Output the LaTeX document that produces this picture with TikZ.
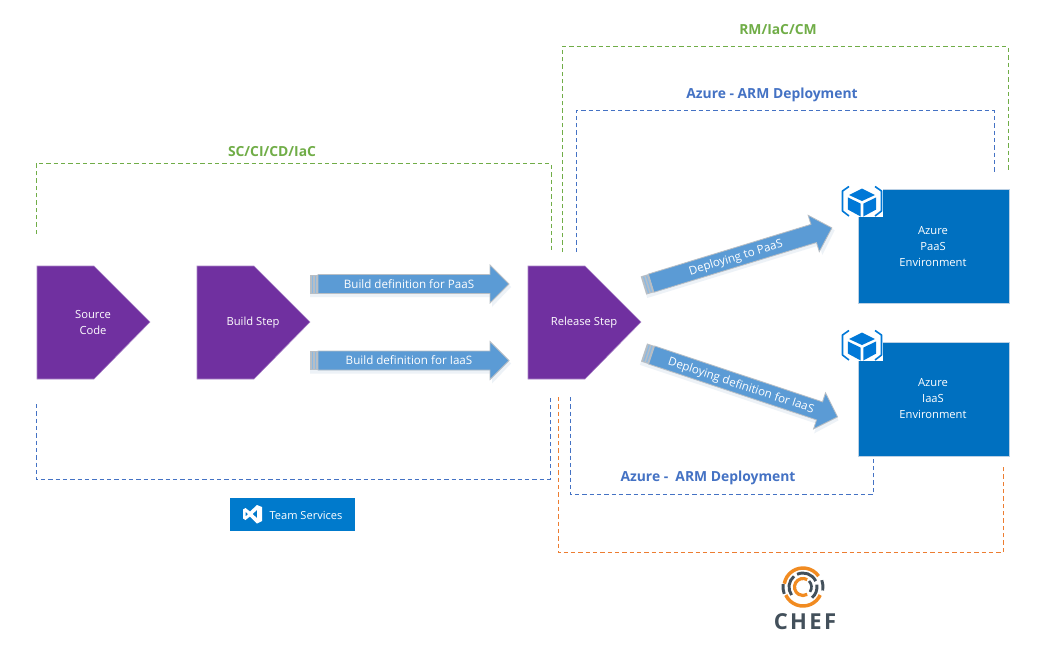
\documentclass[tikz,border=0pt]{standalone}
\usepackage{fontspec}
\setmainfont{Open Sans}
\usetikzlibrary{calc}
\definecolor{purp}{HTML}{7030A0}
\definecolor{azbox}{HTML}{0070C0}
\definecolor{azedge}{HTML}{BBD0E4}
\definecolor{azicon}{HTML}{0078D7}
\definecolor{arrowblue}{HTML}{5B9BD5}
\definecolor{arrowedge}{HTML}{B8BEC4}
\definecolor{softshadow}{HTML}{EDF2F7}
\definecolor{dgreen}{HTML}{70AD47}
\definecolor{dblue}{HTML}{4472C4}
\definecolor{dorange}{HTML}{ED7D31}
\definecolor{vsblue}{HTML}{007ACC}
\definecolor{chefgray}{HTML}{43505B}
\definecolor{cheforange}{HTML}{F18B21}
\tikzset{
  x=0.75pt,y=-0.75pt,
  steplabel/.style={text=white,font=\fontsize{8.4pt}{12pt}\selectfont,align=center,inner sep=0pt},
  envlabel/.style={text=white,font=\fontsize{8.4pt}{12pt}\selectfont,align=center,inner sep=0pt},
  arrowlabel/.style={text=white,font=\fontsize{8.7pt}{10pt}\selectfont,inner sep=0pt},
  grouplabel/.style={font=\bfseries\fontsize{10.4pt}{12pt}\selectfont,inner sep=0pt},
  pentagon/.style={fill=purp,draw=purp!60!white,line width=0.4pt},
  dashgreen/.style={draw=dgreen,dash pattern=on 3.3pt off 2.2pt,line width=0.6pt},
  dashblue/.style={draw=dblue,dash pattern=on 3.3pt off 2.2pt,line width=0.6pt},
  dashorange/.style={draw=dorange,dash pattern=on 3.3pt off 2.2pt,line width=0.6pt},
  azurebox/.style={fill=azbox,draw=azedge,line width=0.6pt},
  blockarrow/.style={fill=arrowblue,draw=arrowedge,line width=0.6pt},
}
% x, y, angle, length: block arrow starting at tail centre
\newcommand{\blockarrow}[4]{%
  \begin{scope}[shift={(#1,#2)},rotate=#3]
    \fill[softshadow] (0,-7) -- (#4-17,-7) -- (#4-17,-17) -- (#4+2,3) -- (#4-17,23) -- (#4-17,13) -- (0,13) -- cycle;
    \path[blockarrow] (8,-9.5) -- (#4-19,-9.5) -- (#4-19,-19) -- (#4,0) -- (#4-19,19) -- (#4-19,9.5) -- (8,9.5) -- cycle;
    \fill[arrowedge] (0,-9.5) rectangle (8,9.5);
    \fill[arrowblue!70!white] (2,-8.5) rectangle (3.3,8.5);
    \fill[arrowblue!70!white] (5,-8.5) rectangle (6.3,8.5);
  \end{scope}}
\newcommand{\pentashape}[1]{%
  \path[pentagon] (#1,266) -- ++(57,0) -- ++(56,56) -- ++(-56,57) -- ++(-57,0) -- cycle;}
\newcommand{\cubeicon}[2]{%
  \begin{scope}[shift={(#1,#2)}]
    \fill[white] (-20,-16) rectangle (21,15);
    \fill[azicon] (0,-13.5) -- (13,-7) -- (0,-1) -- (-13,-7) -- cycle;
    \fill[azicon] (-14.2,-4.6) -- (-1.3,1.6) -- (-1.3,14.5) -- (-14.2,7.5) -- cycle;
    \fill[azicon] (14.2,-4.6) -- (1.3,1.6) -- (1.3,14.5) -- (14.2,7.5) -- cycle;
    \draw[azicon,line width=1.2pt,line join=round] (-13,-15.5) -- (-19.5,-11) -- (-19.5,9) -- (-13,14);
    \draw[azicon,line width=1.2pt,line join=round] (13,-15.5) -- (19.5,-11) -- (19.5,9) -- (13,14);
  \end{scope}}
\begin{document}
\begin{tikzpicture}
\useasboundingbox[fill=white] (0,0) rectangle (1040,668);

% free ends of the dashed connectors
\coordinate (ga) at (36,234);  \coordinate (gb) at (551,252);
\coordinate (ba) at (36,404);  \coordinate (bb) at (550,397);
\coordinate (gc) at (562,252); \coordinate (gd) at (1008,172);
\coordinate (bc) at (576,252); \coordinate (bd) at (994,174);
\coordinate (be) at (570,397); \coordinate (bf) at (873,459);
\coordinate (oa) at (558,397); \coordinate (ob) at (1003,467);

% dashed groups
\draw[dashgreen] (ga) |- (gb |- 0,163.7) -- (gb);
\draw[dashblue] (ba) |- (bb |- 0,479.7) -- (bb);
\draw[dashgreen] (gc) |- (gd |- 0,46.7) -- (gd);
\draw[dashblue] (bc) |- (bd |- 0,110.7) -- (bd);
\draw[dashblue] (be) |- (bf |- 0,494.7) -- (bf);
\draw[dashorange] (oa) |- (ob |- 0,552.7) -- (ob);

% group labels
\node[grouplabel,text=dgreen] (l1) at (272,151.5) {SC/CI/CD/IaC};
\node[grouplabel,text=dgreen] (l2) at (778,30) {RM/IaC/CM};
\node[grouplabel,text=dblue] (l3) at (772,95) {Azure - ARM Deployment};
\node[grouplabel,text=dblue] (l4) at (708,478) {Azure -~~ARM Deployment};

% step pentagons
\pentashape{37}\pentashape{197}\pentashape{528}
\node[steplabel] (src) at (93,322) {Source\\ Code};
\node[steplabel] (bld) at (253,323) {Build Step};
\node[steplabel] (rel) at (584,323) {Release Step};

% block arrows
\blockarrow{310}{284}{0}{199}
\blockarrow{310}{360.5}{0}{199}
\blockarrow{643.5}{285.5}{17}{197}
\blockarrow{644}{352.5}{-18.4}{204}
\node[arrowlabel] (a1) at (409,284) {Build definition for PaaS};
\node[arrowlabel] (a2) at (409,360) {Build definition for IaaS};
\node[arrowlabel,rotate=17] (a3) at (736,258) {Deploying to PaaS};
\node[arrowlabel,rotate=-18.4] (a4) at (741,386) {Deploying definition for IaaS};

% azure boxes
\path[azurebox] (858,189) rectangle (1009,303);
\path[azurebox] (858,342) rectangle (1009,456);
\node[envlabel] (paas) at (933,247) {Azure\\ PaaS\\ Environment};
\node[envlabel] (iaas) at (933,399) {Azure\\ IaaS\\ Environment};
\cubeicon{862}{202}
\cubeicon{862}{346}

% team services badge
\fill[vsblue] (230,498) rectangle (355,531);
\node[text=white,font=\fontsize{8.3pt}{9pt}\selectfont,inner sep=0pt] (ts) at (306,515) {Team Services};
\fill[white,even odd rule] (257,505) -- (262,507) -- (262,521) -- (257,523.5) -- (250,516.5) -- (245.5,520) -- (243,518.5) -- (243,509.5) -- (245.5,508) -- (250,511.5) -- cycle
  (245.5,511.5) -- (248,514) -- (245.5,516.5) -- cycle
  (257,510) -- (257,518) -- (252.5,514) -- cycle;

% chef logo
\begin{scope}[shift={(803,587)},x=0.75pt,y=0.75pt,line cap=butt]
  \draw[cheforange,line width=2.6pt] (35:19) arc (35:170:19);
  \draw[cheforange,line width=2.6pt] (205:19) arc (205:335:19);
  \draw[cheforange,line width=2.4pt] (60:8.5) arc (60:300:8.5);
  \draw[chefgray,line width=2.2pt] (25:14) arc (25:115:14);
  \draw[chefgray,line width=2.2pt] (130:14) arc (130:215:14);
  \draw[chefgray,line width=2.2pt] (-50:14) arc (-50:10:14);
  \draw[chefgray,line width=2.2pt] (-10:20) arc (-10:20:20);
  \draw[chefgray,line width=2.2pt] (172:20) arc (172:200:20);
  \draw[chefgray,line width=2pt] (-35:8.5) arc (-35:45:8.5);
\end{scope}
\node[text=chefgray,font=\bfseries\fontsize{16.5pt}{17pt}\selectfont,inner sep=0pt] (chef) at (805,622) {C\hspace{1.8pt}H\hspace{1.8pt}E\hspace{1.8pt}F};
\end{tikzpicture}
\end{document}
